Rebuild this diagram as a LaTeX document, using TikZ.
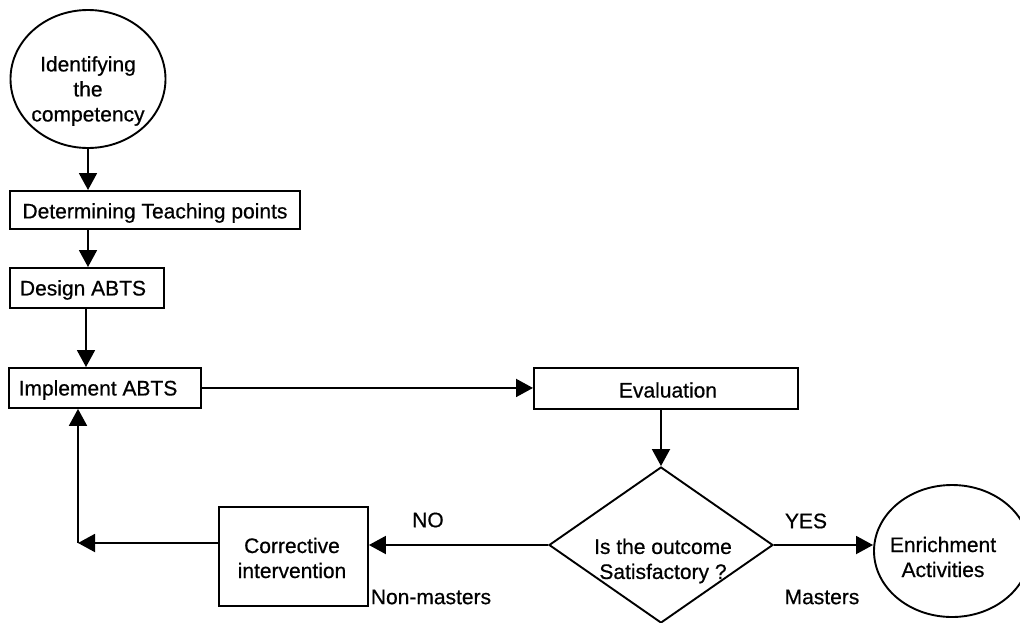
\documentclass[tikz,border=0pt]{standalone}
\usepackage{fontspec}
\setmainfont[FakeBold=0.6]{Liberation Sans}
\usetikzlibrary{arrows.meta,shapes.geometric,calc}

\tikzset{
  flowline/.style={line width=1.9pt, -{Triangle[length=17pt,width=18pt]}},
  stepbox/.style={draw, line width=1.9pt, inner sep=0pt, anchor=north west},
  roundbox/.style={draw, ellipse, line width=1.9pt, inner sep=0pt},
  decision/.style={draw, diamond, line width=1.9pt, inner sep=0pt},
  txt/.style={inner sep=0pt, align=center, font=\fontsize{21}{25}\selectfont},
}

\begin{document}
\begin{tikzpicture}[x=1pt, y=-1pt]
\useasboundingbox (0,0) rectangle (1020,622);
\clip (0,0) rectangle (1020,622);

% start and end terminals
\node[roundbox, minimum width=155pt, minimum height=138pt] (start) at (88,79) {};
\node[txt] (starttxt) at (88,91) {Identifying\\the\\competency};

\node[roundbox, minimum width=156pt, minimum height=132pt] (enrich) at (952,551) {};
\node[txt] (enrichtxt) at (943,557) {Enrichment\\Activities};

% process steps
\node[stepbox, minimum width=290pt, minimum height=38pt] (teach) at (9,190) {};
\node[txt] (teachtxt) at (155,213) {Determining Teaching points};

\node[stepbox, minimum width=154pt, minimum height=40pt] (design) at (9,267) {};
\node[txt] (designtxt) at (83,290) {Design ABTS};

\node[stepbox, minimum width=192pt, minimum height=40pt] (impl) at (8,367) {};
\node[txt] (impltxt) at (98,390) {Implement ABTS};

\node[stepbox, minimum width=264pt, minimum height=41pt] (eval) at (533,367) {};
\node[txt] (evaltxt) at (668,390) {Evaluation};

\node[stepbox, minimum width=149pt, minimum height=99pt] (corr) at (218,506) {};
\node[txt] (corrtxt) at (292,558) {Corrective\\intervention};

% decision
\node[decision, minimum width=224pt, minimum height=156pt] (dec) at (661,545) {};
\node[txt] (dectxt) at (663,561) {Is the outcome\\Satisfactory ?};

% branch labels
\node[txt] (no)   at (428,520) {NO};
\node[txt] (nonm) at (431,597) {Non-masters};
\node[txt] (yes)  at (806,521) {YES};
\node[txt] (mast) at (822,597) {Masters};

% connectors
\coordinate (loop) at (78,543);

\draw[flowline] (start.south) -- (start.south |- teach.north);
\draw[flowline] (88,228) -- (88,267);
\draw[flowline] (86,307) -- (86,367);
\draw[flowline] (impl.east) -- (eval.west |- impl.east);
\draw[flowline] (dec.north |- eval.south) -- (dec.north);
\draw[flowline] (dec.east) -- (enrich.west |- dec.east);
\draw[flowline] (dec.west) -- (dec.west -| corr.east);
\draw[flowline] (corr.west |- loop) -- (loop);
\draw[flowline] (loop) -- (loop |- impl.south);
\end{tikzpicture}
\end{document}
